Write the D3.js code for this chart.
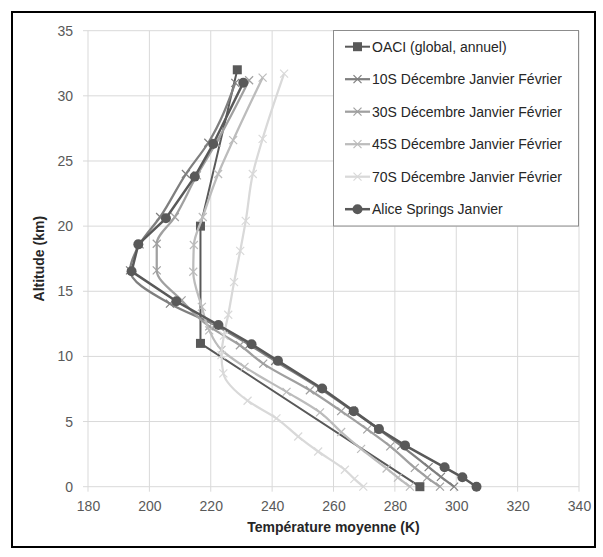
<!DOCTYPE html>
<html>
<head>
<meta charset="utf-8">
<script src="https://cdn.jsdelivr.net/npm/d3@7"></script>
<style>
  body { margin: 0; background: #fff; }
  text { font-family: "Liberation Sans", Arial, sans-serif; }
</style>
</head>
<body>
<svg id="canvas"></svg>
<script>
// temperature profiles (altitude km / temperature K)
let oaciAlt = [0, 11, 20, 32];
let oaciTemp = [288.15, 216.65, 216.65, 228.65];

let s10Alt = [0, 0.75, 1.5, 3.15, 4.45, 5.85, 7.55, 9.65, 10.9, 12.4, 14.05, 16.6, 18.6, 20.7, 24.0, 26.4, 31.0];
let s10Temp = [299.3, 295.0, 291.0, 282.0, 274.5, 266.0, 255.5, 241.0, 232.5, 221.5, 206.7, 193.7, 196.8, 203.5, 211.9, 219.2, 228.0];

let s30Alt = [0, 0.7, 1.45, 3.1, 4.4, 5.8, 7.4, 9.45, 10.86, 12.3, 14.3, 16.6, 18.65, 20.7, 23.9, 26.4, 31.2];
let s30Temp = [294.7, 290.5, 286.5, 278.5, 271.0, 262.5, 252.3, 237.1, 229.5, 219.5, 210.5, 202.4, 202.4, 208.3, 215.5, 221.8, 232.5];

let s45Alt = [0, 0.7, 1.4, 2.9, 4.2, 5.7, 7.28, 9.2, 10.5, 12.0, 13.8, 16.5, 18.55, 20.7, 24.0, 26.6, 31.4];
let s45Temp = [284.9, 281.0, 277.3, 269.0, 262.5, 255.6, 244.7, 231.0, 223.5, 219.5, 217.1, 214.3, 214.5, 217.4, 222.4, 227.3, 236.9];

let s70Alt = [0, 0.6, 1.3, 2.7, 3.85, 5.25, 6.6, 8.7, 10.1, 11.6, 13.2, 15.7, 18.1, 20.4, 24.0, 26.7, 31.7];
let s70Temp = [269.7, 266.8, 263.7, 255.0, 248.5, 241.4, 232.0, 224.1, 223.5, 224.3, 225.7, 227.6, 229.6, 231.4, 233.7, 236.9, 243.9];

let aliceAlt = [0, 0.72, 1.49, 3.17, 4.42, 5.8, 7.54, 9.66, 10.94, 12.41, 14.23, 16.53, 18.6, 20.6, 23.8, 26.3, 31.0];
let aliceTemp = [306.6, 302.0, 296.2, 283.3, 274.8, 266.6, 256.3, 241.9, 233.3, 222.5, 208.8, 194.2, 196.4, 205.4, 214.8, 220.8, 230.6];

let seriesNames = [
  'OACI (global, annuel)',
  '10S Décembre Janvier Février',
  '30S Décembre Janvier Février',
  '45S Décembre Janvier Février',
  '70S Décembre Janvier Février',
  'Alice Springs Janvier'
];

let xTicks = [180, 200, 220, 240, 260, 280, 300, 320, 340];
let yTicks = [0, 5, 10, 15, 20, 25, 30, 35];

let width = 603;
let height = 557;
let plotLeft = 88, plotRight = 579, plotTop = 30.7, plotBottom = 486.7;

let canvas = d3.select('#canvas').attr('width', width).attr('height', height);

canvas.append('rect').
attr('x', 12).attr('y', 12).
attr('width', 583).attr('height', 535).
attr('fill', 'none').attr('stroke', '#000').attr('stroke-width', 2);

let xScale = d3.scaleLinear().domain([180, 340]).range([plotLeft, plotRight]);
let yScale = d3.scaleLinear().domain([0, 35]).range([plotBottom, plotTop]);

// grid
canvas.append('g').selectAll('line').data(xTicks).enter().append('line').
attr('x1', d => xScale(d)).attr('x2', d => xScale(d)).
attr('y1', plotTop).attr('y2', plotBottom + 5).
attr('stroke', '#d9d9d9').attr('stroke-width', 1);

canvas.append('g').selectAll('line').data(yTicks).enter().append('line').
attr('x1', plotLeft - 5).attr('x2', plotRight).
attr('y1', d => yScale(d)).attr('y2', d => yScale(d)).
attr('stroke', '#d9d9d9').attr('stroke-width', 1);

// axis labels
let xAxis = d3.axisBottom(xScale).tickValues(xTicks).tickSize(0).tickPadding(14);
let gx = canvas.append('g').attr('transform', 'translate(0,' + plotBottom + ')').call(xAxis);
gx.select('.domain').remove();
gx.selectAll('text').attr('font-size', 14).attr('fill', '#595959').
attr('font-family', '"Liberation Sans", Arial, sans-serif');

let yAxis = d3.axisLeft(yScale).tickValues(yTicks).tickSize(0).tickPadding(15);
let gy = canvas.append('g').attr('transform', 'translate(' + plotLeft + ',0)').call(yAxis);
gy.select('.domain').remove();
gy.selectAll('text').attr('font-size', 14).attr('fill', '#595959').
attr('font-family', '"Liberation Sans", Arial, sans-serif');

canvas.append('text').
attr('x', (plotLeft + plotRight) / 2).attr('y', 532).
attr('text-anchor', 'middle').attr('font-size', 14).attr('font-weight', 'bold').
attr('fill', '#262626').
text('Température moyenne (K)');

canvas.append('text').
attr('transform', 'translate(44,' + (plotTop + plotBottom) / 2 + ') rotate(-90)').
attr('text-anchor', 'middle').attr('font-size', 14).attr('font-weight', 'bold').
attr('fill', '#262626').
text('Altitude (km)');

let series = [
  {name: seriesNames[0], alt: oaciAlt, temp: oaciTemp, color: '#595959', marker: 'square', curve: d3.curveLinear, w: 2},
  {name: seriesNames[1], alt: s10Alt, temp: s10Temp, color: '#7f7f7f', marker: 'x', curve: d3.curveMonotoneY, w: 2.25},
  {name: seriesNames[2], alt: s30Alt, temp: s30Temp, color: '#a0a0a0', marker: 'x', curve: d3.curveMonotoneY, w: 2.25},
  {name: seriesNames[3], alt: s45Alt, temp: s45Temp, color: '#bcbcbc', marker: 'x', curve: d3.curveMonotoneY, w: 2.25},
  {name: seriesNames[4], alt: s70Alt, temp: s70Temp, color: '#d9d9d9', marker: 'x', curve: d3.curveMonotoneY, w: 2.25},
  {name: seriesNames[5], alt: aliceAlt, temp: aliceTemp, color: '#595959', marker: 'circle', curve: d3.curveLinear, w: 2.5}
];

let drawMarker = (g, kind, x, y, color) => {
  if (kind === 'square') {
    g.append('rect').attr('x', x - 4.5).attr('y', y - 4.5).
    attr('width', 9).attr('height', 9).attr('fill', color);
  } else if (kind === 'circle') {
    g.append('circle').attr('cx', x).attr('cy', y).attr('r', 5).attr('fill', color);
  } else {
    g.append('path').
    attr('d', `M${x - 4},${y - 4}L${x + 4},${y + 4}M${x - 4},${y + 4}L${x + 4},${y - 4}`).
    attr('stroke', color).attr('stroke-width', 1.2).attr('fill', 'none');
  }
};

series.forEach(s => {
  let pts = s.alt.map((a, i) => [s.temp[i], a]);
  let line = d3.line().x(d => xScale(d[0])).y(d => yScale(d[1])).curve(s.curve);
  let g = canvas.append('g');
  g.append('path').attr('d', line(pts)).
  attr('fill', 'none').attr('stroke', s.color).attr('stroke-width', s.w).
  attr('stroke-linejoin', 'round');
  pts.forEach(p => drawMarker(g, s.marker, xScale(p[0]), yScale(p[1]), s.color));
});

// legend
let legend = canvas.append('g');
legend.append('rect').
attr('x', 333.5).attr('y', 30.5).attr('width', 245).attr('height', 195.5).
attr('fill', '#fff').attr('stroke', '#8c8c8c').attr('stroke-width', 1);

series.forEach((s, i) => {
  let cy = 46.7 + i * 32.5;
  legend.append('line').attr('x1', 345).attr('x2', 370).attr('y1', cy).attr('y2', cy).
  attr('stroke', s.color).attr('stroke-width', s.w);
  drawMarker(legend, s.marker, 357.5, cy, s.color);
  legend.append('text').attr('x', 372).attr('y', cy).attr('dy', '0.35em').
  attr('font-size', 14).attr('fill', '#262626').text(s.name);
});
</script>
</body>
</html>
